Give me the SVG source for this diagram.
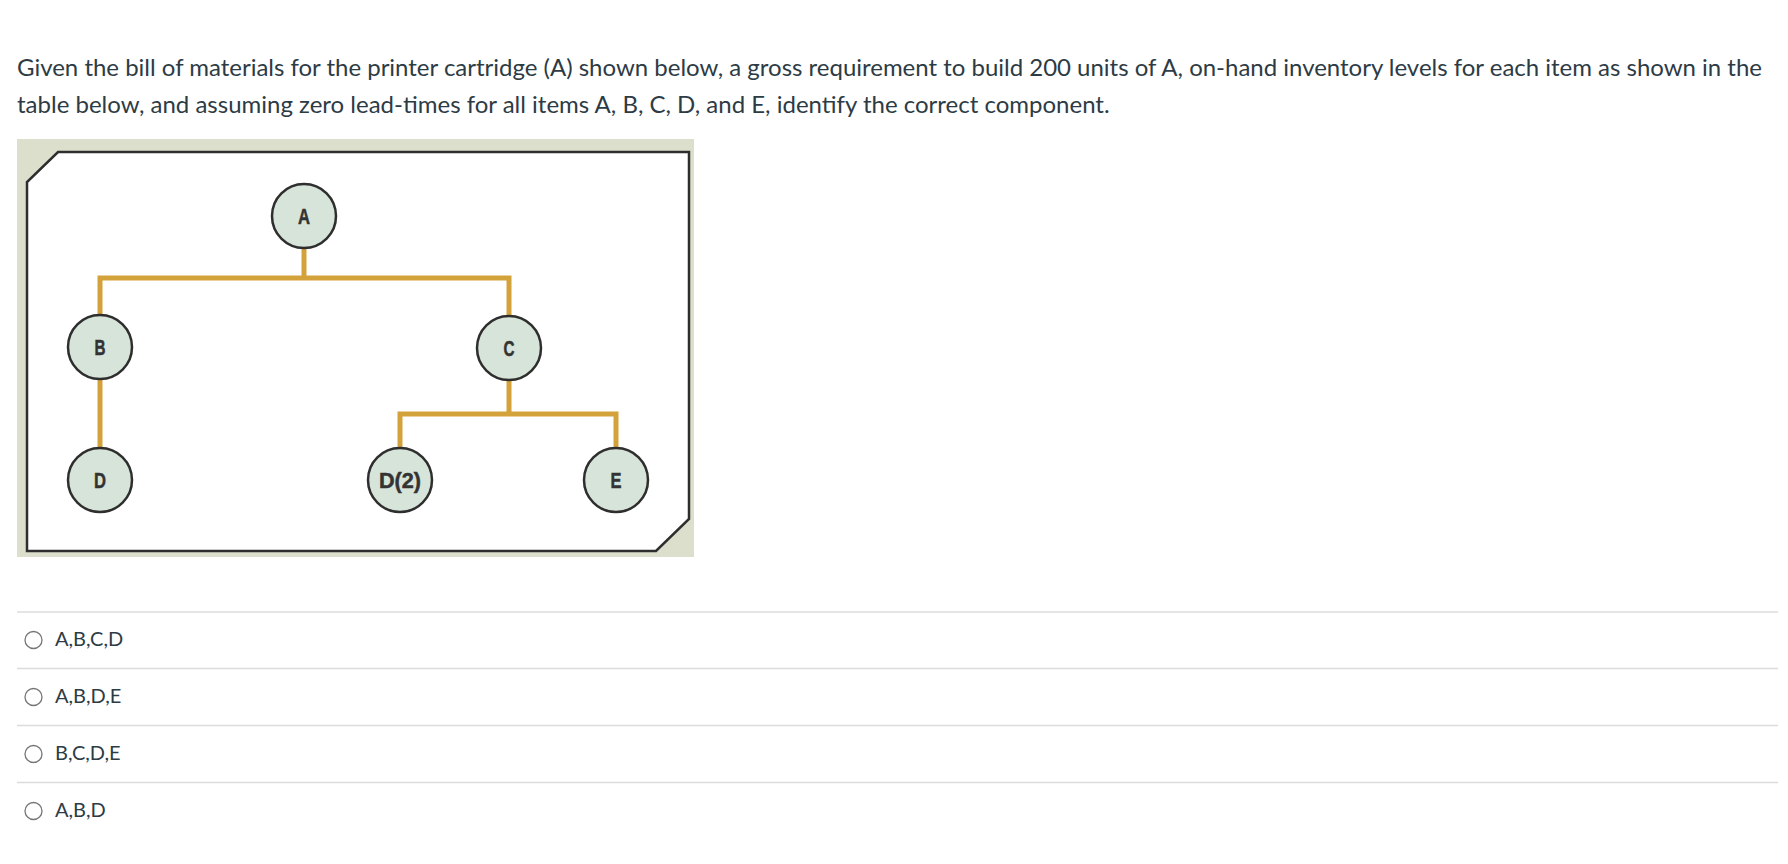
<svg xmlns="http://www.w3.org/2000/svg" width="1788" height="864" viewBox="0 0 1788 864">
<style>
.q{font-family:Lato,"Noto Sans",sans-serif;font-size:24px;fill:#2d3b45}
.opt{font-family:Lato,"Noto Sans",sans-serif;font-size:20px;fill:#2d3b45}
.sep{stroke:#dcdcdc;stroke-width:1.5}
.radio{fill:#fff;stroke:#767676;stroke-width:1.3}
.node circle{fill:#d7e4d9;stroke:#2e2e2e;stroke-width:2.5}
.node text{font-family:"Liberation Sans",Arial,sans-serif;font-weight:bold;font-size:22px;fill:#333;stroke:#333;stroke-width:0.5;text-anchor:middle}
.link{fill:none;stroke:#d4a23a;stroke-width:5}
</style>
<rect width="1788" height="864" fill="#fff"/>
<text class="q" x="17" y="76" textLength="1745" lengthAdjust="spacing">Given the bill of materials for the printer cartridge (A) shown below, a gross requirement to build 200 units of A, on-hand inventory levels for each item as shown in the</text>
<text class="q" x="17" y="113">table below, and assuming zero lead-times for all items A, B, C, D, and E, identify the correct component.</text>
<g id="panel">
<rect x="17" y="139" width="677" height="418" fill="#dcdfcc"/>
<path d="M58,152 L689,152 L689,519 L656,551 L27,551 L27,182 Z" fill="#fff" stroke="#2e2e2e" stroke-width="2.5"/>
</g>
<g id="connectors">
<path class="link" d="M304,247 V278 M100,316 V278 H509 V316"/>
<path class="link" d="M100,379 V448"/>
<path class="link" d="M509,380 V414 M400,448 V414 H616 V448"/>
</g>
<g id="nodeA" class="node"><circle cx="304" cy="216" r="32"/><text x="304" y="224" textLength="12" lengthAdjust="spacingAndGlyphs">A</text></g>
<g id="nodeB" class="node"><circle cx="100" cy="347" r="32"/><text x="100" y="355" textLength="11" lengthAdjust="spacingAndGlyphs">B</text></g>
<g id="nodeC" class="node"><circle cx="509" cy="348" r="32"/><text x="509" y="356" textLength="11" lengthAdjust="spacingAndGlyphs">C</text></g>
<g id="nodeD" class="node"><circle cx="100" cy="480" r="32"/><text x="100" y="488" textLength="12" lengthAdjust="spacingAndGlyphs">D</text></g>
<g id="nodeD2" class="node"><circle cx="400" cy="480" r="32"/><text x="400" y="488" textLength="42" lengthAdjust="spacingAndGlyphs">D(2)</text></g>
<g id="nodeE" class="node"><circle cx="616" cy="480" r="32"/><text x="616" y="488" textLength="11" lengthAdjust="spacingAndGlyphs">E</text></g>
<g id="options">
<line class="sep" x1="17" y1="612" x2="1778" y2="612"/>
<line class="sep" x1="17" y1="668.5" x2="1778" y2="668.5"/>
<line class="sep" x1="17" y1="725.5" x2="1778" y2="725.5"/>
<line class="sep" x1="17" y1="782.5" x2="1778" y2="782.5"/>
<circle class="radio" cx="33.5" cy="640" r="8.5"/>
<circle class="radio" cx="33.5" cy="697" r="8.5"/>
<circle class="radio" cx="33.5" cy="754" r="8.5"/>
<circle class="radio" cx="33.5" cy="811" r="8.5"/>
<text class="opt" x="55" y="646">A,B,C,D</text>
<text class="opt" x="55" y="703">A,B,D,E</text>
<text class="opt" x="55" y="760">B,C,D,E</text>
<text class="opt" x="55" y="817">A,B,D</text>
</g>
</svg>
